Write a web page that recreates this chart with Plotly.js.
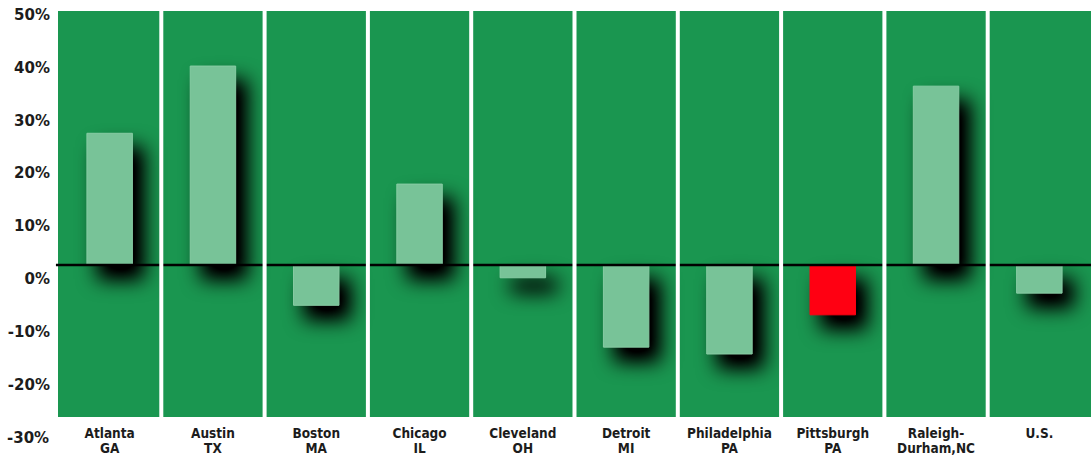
<!DOCTYPE html>
<html>
<head>
<meta charset="utf-8">
<script src="https://cdn.plot.ly/plotly-3.0.1.min.js"></script>
<style>html,body{margin:0;padding:0;background:#fff;}#chart{width:1091px;height:456px;}</style>
</head>
<body>
<div id="chart"></div>
<script>
// ---- data ----
const cities = ["Atlanta", "Austin", "Boston", "Chicago", "Cleveland", "Detroit", "Philadelphia", "Pittsburgh", "Raleigh-", "U.S."];
const states = ["GA", "TX", "MA", "IL", "OH", "MI", "PA", "PA", "Durham,NC", ""];
const changePct = [24.9, 37.6, -7.6, 15.3, -2.4, -15.5, -16.8, -9.4, 33.8, -5.3];
const highlightCity = "Pittsburgh";
const yTickValues = [50, 40, 30, 20, 10, 0, -10, -20, -30];
const yTickLabels = ["50%", "40%", "30%", "20%", "10%", "0%", "-10%", "-20%", "-30%"];

// ---- styling ----
const GREEN = "#1a9650";
const BAR = "#78c398";
const RED = "#ff0012";
const TEXT = "#1c1c1c";
const labelOffset = 2.65;   // labels in the reference sit slightly below their true level
const yRange = [-28.7, 48.0];

const barColors = cities.map(c => c === highlightCity ? RED : BAR);
const barLines = cities.map(c => c === highlightCity ? RED : "#88cca4");
const yFont = {family: "DejaVu Sans", size: 15, color: TEXT, weight: "bold"};

const inRange = v => v >= yRange[0] && v <= yRange[1];
const tv = [], tt = [];
const extraAnn = [];
yTickValues.forEach((v, i) => {
  const pos = v - labelOffset;
  if (inRange(pos)) { tv.push(pos); tt.push(yTickLabels[i]); }
  else extraAnn.push({xref: "paper", x: 0, xanchor: "right", xshift: -7,
    yref: "paper", y: (pos - yRange[0]) / (yRange[1] - yRange[0]), yanchor: "middle",
    text: yTickLabels[i], showarrow: false, font: yFont});
});

const traces = [
  {type: "bar", x: cities, y: changePct, width: 0.44,
   marker: {color: barColors, line: {color: barLines, width: 1}},
   hoverinfo: "skip", xaxis: "x", yaxis: "y"},
  {type: "scatter", x: cities, y: cities.map(() => null), xaxis: "x2", yaxis: "y",
   hoverinfo: "skip", showlegend: false}
];

const shapes = [];
shapes.push({type: "line", xref: "paper", x0: -0.002, x1: 1, yref: "y", y0: 0, y1: 0,
  line: {color: "#000", width: 2.5}, layer: "above"});
for (let k = 0; k < cities.length - 1; k++) {
  shapes.push({type: "line", xref: "x", x0: k + 0.5, x1: k + 0.5, yref: "paper", y0: 0, y1: 1,
    line: {color: "#fff", width: 4}, layer: "above"});
}

const catFont = {family: "DejaVu Sans Condensed, DejaVu Sans", size: 13.5, color: TEXT, weight: "bold"};

const layout = {
  width: 1091, height: 456,
  margin: {l: 58, r: 0, t: 11, b: 39, pad: 0},
  paper_bgcolor: "#fff", plot_bgcolor: GREEN,
  showlegend: false,
  xaxis: {type: "category", categoryarray: cities, range: [-0.5, cities.length - 0.5],
    showgrid: false, zeroline: false, showline: false, ticks: "",
    tickvals: cities, ticktext: cities, tickfont: catFont, ticklabelstandoff: 6, fixedrange: true},
  xaxis2: {type: "category", overlaying: "x", matches: "x", side: "bottom", anchor: "y",
    categoryarray: cities, range: [-0.5, cities.length - 0.5],
    showgrid: false, zeroline: false, showline: false, ticks: "",
    tickvals: cities, ticktext: states, tickfont: catFont, ticklabelstandoff: 21, fixedrange: true},
  yaxis: {range: yRange, showgrid: false, zeroline: false, showline: false, ticks: "",
    tickvals: tv, ticktext: tt, ticklabelstandoff: 7, tickfont: yFont, fixedrange: true},
  shapes: shapes,
  annotations: extraAnn,
  bargap: 0
};

Plotly.newPlot("chart", traces, layout, {staticPlot: true, displayModeBar: false}).then(gd => {
  const svg = gd.querySelector(".main-svg");
  const NS = "http://www.w3.org/2000/svg";
  let defs = svg.querySelector("defs");
  if (!defs) { defs = document.createElementNS(NS, "defs"); svg.insertBefore(defs, svg.firstChild); }
  const f = document.createElementNS(NS, "filter");
  f.setAttribute("id", "barShadow");
  f.setAttribute("filterUnits", "userSpaceOnUse");
  f.setAttribute("x", "-300"); f.setAttribute("y", "-300");
  f.setAttribute("width", "1800"); f.setAttribute("height", "1100");
  f.setAttribute("color-interpolation-filters", "sRGB");
  f.innerHTML = '<feGaussianBlur in="SourceAlpha" stdDeviation="10" result="b"/>' +
    '<feOffset in="b" dx="11" dy="14" result="o"/>' +
    '<feComponentTransfer in="o" result="s"><feFuncA type="linear" slope="1.2"/></feComponentTransfer>' +
    '<feMerge><feMergeNode in="s"/><feMergeNode in="SourceGraphic"/></feMerge>';
  defs.appendChild(f);
  gd.querySelectorAll(".barlayer .point path").forEach(p => {
    p.setAttribute("filter", "url(#barShadow)");
  });
});
</script>
</body>
</html>
